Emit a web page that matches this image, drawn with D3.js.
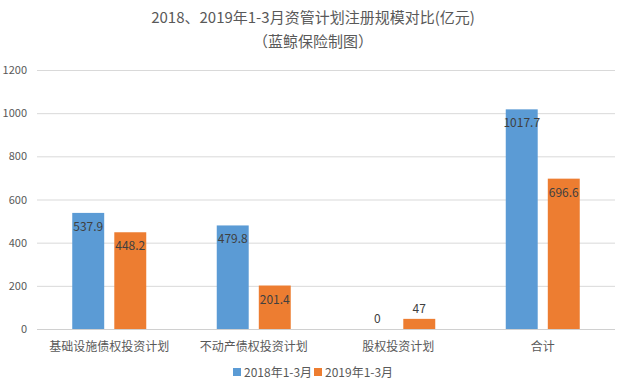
<!DOCTYPE html>
<html>
<head>
<meta charset="utf-8">
<script src="https://cdn.jsdelivr.net/npm/d3@7"></script>
<style>
  body { margin: 0; background: #fff; }
  text { font-family: "Noto Sans CJK SC", "Noto Sans", sans-serif; }
</style>
</head>
<body>
<svg id="chart" width="626" height="386"></svg>
<script>
// chart data
var categories = ['基础设施债权投资计划', '不动产债权投资计划', '股权投资计划', '合计'];
var seriesNames = ['2018年1-3月', '2019年1-3月'];
var values2018 = [537.9, 479.8, 0, 1017.7];
var values2019 = [448.2, 201.4, 47, 696.6];
var yTicks = [0, 200, 400, 600, 800, 1000, 1200];
var colors = ['#5B9BD5', '#ED7D31'];

var svg = d3.select('#chart');
var margin = {left: 37, right: 11, top: 70, bottom: 57};
var width = 626 - margin.left - margin.right;
var height = 386 - margin.top - margin.bottom;

// title
svg.append('text')
  .attr('x', 313).attr('y', 23)
  .attr('text-anchor', 'middle')
  .attr('fill', '#595959')
  .style('font-size', '15px')
  .text('2018、2019年1-3月资管计划注册规模对比(亿元)');
svg.append('text')
  .attr('x', 313).attr('y', 47)
  .attr('text-anchor', 'middle')
  .attr('fill', '#595959')
  .style('font-size', '15px')
  .text('（蓝鲸保险制图）');

var g = svg.append('g').attr('transform', 'translate(' + margin.left + ',' + margin.top + ')');

var x0 = d3.scaleBand().domain(categories).range([0, width]).paddingInner(0).paddingOuter(0);
var x1 = d3.scaleBand().domain([0, 1]).range([x0.bandwidth() / 2 - 37, x0.bandwidth() / 2 + 37]).paddingInner(0.24);
var y = d3.scaleLinear().domain([0, 1200]).range([height, 0]);

// gridlines
var yAxis = d3.axisLeft(y).tickValues(yTicks).tickSize(-width).tickPadding(10).tickFormat(d3.format('d'));
var yg = g.append('g').call(yAxis);
yg.select('.domain').remove();
yg.selectAll('.tick line').attr('stroke', '#d9d9d9');
yg.selectAll('.tick text').attr('fill', '#595959').style('font-size', '11px');
yg.selectAll('.tick').filter(function(d) { return d === 0; }).select('line').attr('stroke', '#d0d0d0');

// bars
var rows = categories.map(function(c, i) { return {cat: c, vals: [values2018[i], values2019[i]]}; });
var groups = g.selectAll('.grp').data(rows).enter().append('g')
  .attr('transform', function(d) { return 'translate(' + x0(d.cat) + ',0)'; });

groups.selectAll('rect').data(function(d) { return d.vals; }).enter().append('rect')
  .attr('x', function(d, i) { return x1(i); })
  .attr('width', x1.bandwidth())
  .attr('y', function(d) { return y(d); })
  .attr('height', function(d) { return height - y(d); })
  .attr('fill', function(d, i) { return colors[i]; });

// labels, inside end unless bar is too short
groups.selectAll('.lbl').data(function(d) { return d.vals; }).enter().append('text')
  .attr('x', function(d, i) { return x1(i) + x1.bandwidth() / 2; })
  .attr('y', function(d) { return (height - y(d)) < 22 ? y(d) - 6 : y(d) + 18; })
  .attr('text-anchor', 'middle')
  .attr('fill', '#404040')
  .style('font-size', '12px')
  .text(function(d) { return d; });

// category labels
g.selectAll('.cat').data(categories).enter().append('text')
  .attr('x', function(d) { return x0(d) + x0.bandwidth() / 2; })
  .attr('y', height + 22)
  .attr('text-anchor', 'middle')
  .attr('fill', '#595959')
  .style('font-size', '12px')
  .text(function(d) { return d; });

// legend
var legendX = [233, 314];
var lg = svg.selectAll('.leg').data(seriesNames).enter().append('g')
  .attr('transform', function(d, i) { return 'translate(' + legendX[i] + ',368)'; });
lg.append('rect').attr('width', 8).attr('height', 8).attr('fill', function(d, i) { return colors[i]; });
lg.append('text').attr('x', 11).attr('y', 8.5)
  .attr('fill', '#595959')
  .style('font-size', '12px')
  .text(function(d) { return d; });
</script>
</body>
</html>
